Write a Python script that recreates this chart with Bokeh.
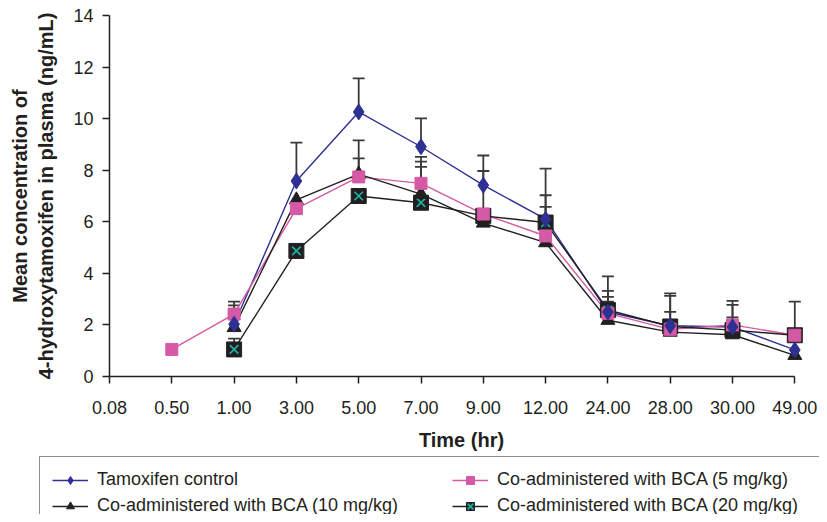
from bokeh.plotting import figure
from bokeh.layouts import column
from bokeh.models import Range1d, FixedTicker, Legend, LegendItem, ColumnDataSource
from bokeh.embed import file_html
from bokeh.resources import INLINE

nan = float("nan")

time_labels = ["0.08", "0.50", "1.00", "3.00", "5.00", "7.00", "9.00",
               "12.00", "24.00", "28.00", "30.00", "49.00"]
x_idx = list(range(len(time_labels)))

tam_mean = [nan, nan, 2.03, 7.58, 10.26, 8.91, 7.42, 6.10, 2.50, 1.97, 1.92, 1.03]
tam_sd = [nan, nan, 0.87, 1.49, 1.30, 1.10, 1.15, 1.96, 1.38, 1.25, 1.01, nan]

bca5_mean = [nan, 1.05, 2.42, 6.51, 7.74, 7.49, 6.30, 5.45, 2.45, 1.83, 2.00, 1.60]
bca5_sd = [nan, nan, 0.34, nan, 0.72, 0.84, nan, 1.13, 0.45, 0.68, 0.78, nan]

bca10_mean = [nan, nan, 1.90, 6.85, 7.85, 7.07, 5.95, 5.19, 2.18, 1.72, 1.62, 0.82]
bca10_sd = [nan, nan, nan, nan, 1.31, 1.06, 2.02, 1.84, 1.14, 1.41, 0.67, nan]

bca20_mean = [nan, nan, 1.05, 4.87, 7.00, 6.74, 6.23, 5.97, 2.58, 1.94, 1.80, 1.60]
bca20_sd = [nan, nan, 0.42, nan, nan, 1.78, nan, nan, 0.51, nan, nan, 1.30]

labels = ["Tamoxifen control", "Co-administered with BCA (5 mg/kg)",
          "Co-administered with BCA (10 mg/kg)", "Co-administered with BCA (20 mg/kg)"]

FONT = "Liberation Sans"
BLUE = "#2E3192"
PINK = "#D45AA5"
BLACK = "#231F20"
TEAL = "#1BB0A0"
ERR = "#3A3A3A"

p = figure(width=819, height=455, output_backend="svg", toolbar_location=None,
           x_range=Range1d(0, 11.3), y_range=Range1d(0, 14),
           min_border_left=109, min_border_right=6, min_border_top=15, min_border_bottom=79)
p.frame_align = False
p.outline_line_color = None
p.xgrid.visible = False
p.ygrid.visible = False
p.background_fill_color = "white"
p.border_fill_color = "white"

series = [
    (tam_mean, tam_sd),
    (bca5_mean, bca5_sd),
    (bca10_mean, bca10_sd),
    (bca20_mean, bca20_sd),
]

# error bars (upper only)
for mean, sd in series:
    top = [m + s for m, s in zip(mean, sd)]
    src = ColumnDataSource(dict(x=x_idx, y0=mean, y1=top))
    p.segment(x0="x", y0="y0", x1="x", y1="y1", source=src, line_color=ERR, line_width=1.8)
    p.scatter(x="x", y="y1", source=src, marker="dash", size=12, line_color=ERR, line_width=1.8)

sources = [ColumnDataSource(dict(x=x_idx, y=m)) for m, _ in series]


def draw_series(fig, srcs):
    r = {}
    r["l0"] = fig.line("x", "y", source=srcs[0], line_color=BLUE, line_width=1.4)
    r["l1"] = fig.line("x", "y", source=srcs[1], line_color=PINK, line_width=1.4)
    r["l2"] = fig.line("x", "y", source=srcs[2], line_color=BLACK, line_width=1.4)
    r["l3"] = fig.line("x", "y", source=srcs[3], line_color=BLACK, line_width=1.4)
    r["m3a"] = fig.scatter("x", "y", source=srcs[3], marker="square", size=15, fill_color=BLACK, line_color=BLACK)
    r["m3b"] = fig.scatter("x", "y", source=srcs[3], marker="x", size=12, line_color=TEAL, line_width=1.7)
    r["m2"] = fig.scatter("x", "y", source=srcs[2], marker="triangle", size=14, fill_color=BLACK, line_color=BLACK)
    r["m1"] = fig.scatter("x", "y", source=srcs[1], marker="square", size=12, fill_color=PINK, line_color=PINK)
    r["m0"] = fig.scatter("x", "y", source=srcs[0], marker="diamond", size=16, fill_color=BLUE, line_color=BLUE)
    return r


draw_series(p, sources)

# axes
p.xaxis.ticker = FixedTicker(ticks=x_idx)
p.xaxis.major_label_overrides = {i: t for i, t in zip(x_idx, time_labels)}
p.xaxis.bounds = (0, 11)
p.yaxis.ticker = FixedTicker(ticks=list(range(0, 15, 2)))
for ax in (p.xaxis, p.yaxis):
    ax.minor_tick_line_color = None
    ax.major_tick_in = 0
    ax.major_tick_out = 7
    ax.axis_line_color = BLACK
    ax.axis_line_width = 1.5
    ax.major_tick_line_color = BLACK
    ax.major_tick_line_width = 1.5
    ax.major_label_text_font = FONT
    ax.major_label_text_font_size = "18px"
    ax.major_label_text_color = BLACK
    ax.axis_label_text_font = FONT
    ax.axis_label_text_font_size = "20px"
    ax.axis_label_text_font_style = "bold"
    ax.axis_label_text_color = BLACK

p.xaxis.axis_label = "Time (hr)"
p.xaxis.major_label_standoff = 17
p.xaxis.axis_label_standoff = 12
p.yaxis.axis_label = "Mean concentration of\n4-hydroxytamoxifen in plasma (ng/mL)"
p.yaxis.major_label_standoff = 9
p.yaxis.axis_label_standoff = 13

# legend panel: a separate borderless figure; its renderers hold one NaN point only
lf = figure(width=819, height=59, output_backend="svg", toolbar_location=None,
            x_axis_type=None, y_axis_type=None,
            x_range=Range1d(0, 1), y_range=Range1d(0, 1),
            min_border=0, min_border_left=0, min_border_right=0,
            min_border_top=0, min_border_bottom=0)
lf.frame_align = False
lf.outline_line_color = None
lf.xgrid.visible = False
lf.ygrid.visible = False
empty = [ColumnDataSource(dict(x=[nan], y=[nan])) for _ in range(4)]
lr = draw_series(lf, empty)

legend = Legend(items=[
    LegendItem(label=labels[0], renderers=[lr["l0"], lr["m0"]]),
    LegendItem(label=labels[2], renderers=[lr["l2"], lr["m2"]]),
    LegendItem(label=labels[1], renderers=[lr["l1"], lr["m1"]]),
    LegendItem(label=labels[3], renderers=[lr["l3"], lr["m3a"], lr["m3b"]]),
], ncols=2, location=(39, -15))
legend.label_text_font = FONT
legend.label_text_font_size = "18px"
legend.label_text_color = BLACK
legend.glyph_width = 36
legend.glyph_height = 20
legend.label_height = 20
legend.label_width = 350
legend.label_standoff = 9
legend.spacing = 5
legend.padding = 12
legend.margin = 0
legend.border_line_color = BLACK
legend.border_line_width = 1.2
legend.background_fill_alpha = 1
lf.add_layout(legend, "center")

layout = column(p, lf, spacing=0)
open("out.html", "w").write(file_html(layout, INLINE))
